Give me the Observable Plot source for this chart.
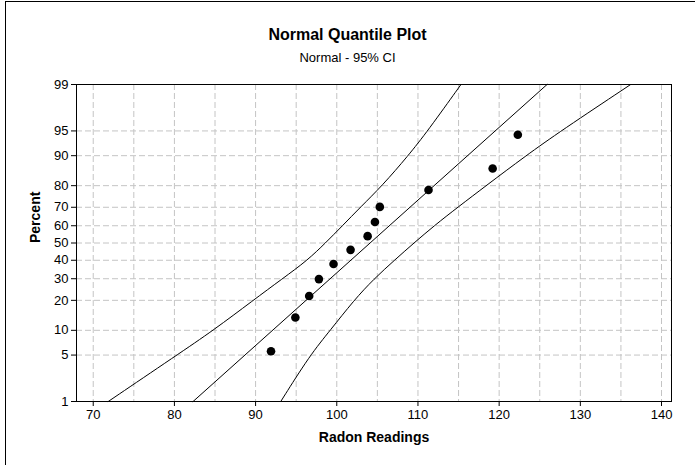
<!DOCTYPE html>
<html>
<head>
<meta charset="utf-8">
<script src="https://cdn.jsdelivr.net/npm/d3@7"></script>
<script src="https://cdn.jsdelivr.net/npm/@observablehq/plot@0.6"></script>
<style>
  html, body { margin: 0; padding: 0; background: #fff; }
  #wrap { position: relative; width: 695px; height: 465px; font-family: "Liberation Sans", Arial, sans-serif; color: #000; overflow: hidden; background: #fff; }
  #border { position: absolute; left: 5px; top: 1px; width: 700px; height: 480px; border-left: 1px solid #000; border-top: 1px solid #000; z-index: 2; pointer-events: none; }
  #head { position: relative; height: 70px; }
  #title { position: absolute; left: 0; width: 695px; top: 26px; text-align: center; font-weight: bold; font-size: 16px; }
  #subtitle { position: absolute; left: 0; width: 695px; top: 50px; text-align: center; font-size: 13px; }
  #chart { position: absolute; left: 0; top: 70px; z-index: 1; }
</style>
</head>
<body>
<div id="wrap">
  <div id="head">
    <div id="title">Normal Quantile Plot</div>
    <div id="subtitle">Normal - 95% CI</div>
  </div>
  <div id="chart"></div>
  <div id="border"></div>
</div>
<script>
const radon = [91.9, 94.9, 96.6, 97.8, 99.6, 101.7, 103.8, 104.7, 105.3, 111.3, 119.2, 122.3];
const percent = [5.6, 13.7, 21.8, 29.8, 37.9, 46.0, 54.0, 62.1, 70.2, 78.2, 86.3, 94.4];

// Fitted line
const fitPercent = [1, 50, 99];
const fitRadon = [82.3, 104.1, 125.9];

// 95% CI bands
const bandPercent = [1, 5, 10, 20, 30, 40, 50, 60, 70, 80, 90, 95, 99];
const lowerRadon = [71.85, 80.3, 84.8, 89.7, 93.3, 96.4, 98.6, 100.7, 102.9, 105.6, 108.8, 111.2, 115.3];
const upperRadon = [93.1, 96.7, 99.2, 102.1, 104.6, 107.1, 109.5, 112.0, 114.9, 118.4, 123.3, 127.6, 136.2];

// Axis ticks
const xTicks = [70, 80, 90, 100, 110, 120, 130, 140];
const xGrid = [70, 75, 80, 85, 90, 95, 100, 105, 110, 115, 120, 125, 130, 135, 140];
const yTicks = [1, 5, 10, 20, 30, 40, 50, 60, 70, 80, 90, 95, 99];

// Inverse standard normal CDF (Acklam) for the probability scale
function qnorm(p) {
  const a = [-3.969683028665376e+01, 2.209460984245205e+02, -2.759285104469687e+02, 1.383577518672690e+02, -3.066479806614716e+01, 2.506628277459239e+00];
  const b = [-5.447609879822406e+01, 1.615858368580409e+02, -1.556989798598866e+02, 6.680131188771972e+01, -1.328068155288572e+01];
  const c = [-7.784894002430293e-03, -3.223964580411365e-01, -2.400758277161838e+00, -2.549732539343734e+00, 4.374664141464968e+00, 2.938163982698783e+00];
  const d = [7.784695709041462e-03, 3.224671290700398e-01, 2.445134137142996e+00, 3.754408661907416e+00];
  const pl = 0.02425, ph = 1 - pl;
  let q, r;
  if (p < pl) {
    q = Math.sqrt(-2 * Math.log(p));
    return (((((c[0]*q+c[1])*q+c[2])*q+c[3])*q+c[4])*q+c[5]) / ((((d[0]*q+d[1])*q+d[2])*q+d[3])*q+1);
  }
  if (p <= ph) {
    q = p - 0.5; r = q * q;
    return (((((a[0]*r+a[1])*r+a[2])*r+a[3])*r+a[4])*r+a[5])*q / (((((b[0]*r+b[1])*r+b[2])*r+b[3])*r+b[4])*r+1);
  }
  q = Math.sqrt(-2 * Math.log(1 - p));
  return -(((((c[0]*q+c[1])*q+c[2])*q+c[3])*q+c[4])*q+c[5]) / ((((d[0]*q+d[1])*q+d[2])*q+d[3])*q+1);
}
const z = (pct) => qnorm(pct / 100);

const points = radon.map((x, i) => ({x, z: z(percent[i])}));
const fit = fitRadon.map((x, i) => ({x, z: z(fitPercent[i])}));
const lower = lowerRadon.map((x, i) => ({x, z: z(bandPercent[i])}));
const upper = upperRadon.map((x, i) => ({x, z: z(bandPercent[i])}));

const yTickZ = yTicks.map(z);
const yLabel = new Map(yTickZ.map((v, i) => [v, String(yTicks[i])]));
const yGridZ = yTicks.filter(p => p !== 1 && p !== 99).map(z);

const gridStyle = {stroke: "#c4c4c4", strokeOpacity: 1, strokeWidth: 1, strokeDasharray: "6,3"};

const chart = Plot.plot({
  width: 695,
  height: 395,
  marginLeft: 76,
  marginRight: 24,
  marginTop: 14,
  marginBottom: 64,
  style: {fontFamily: "'Liberation Sans', Arial, sans-serif", fontSize: "13px", color: "#000", background: "transparent", overflow: "visible"},
  x: {domain: [67.94, 141.23]},
  y: {domain: [z(1), z(99)]},
  marks: [
    Plot.gridX(xGrid, gridStyle),
    Plot.gridY(yGridZ, gridStyle),
    Plot.line(lower, {x: "x", y: "z", curve: "basis", stroke: "#000", strokeWidth: 1}),
    Plot.line(upper, {x: "x", y: "z", curve: "basis", stroke: "#000", strokeWidth: 1}),
    Plot.line(fit, {x: "x", y: "z", stroke: "#000", strokeWidth: 1}),
    Plot.dot(points, {x: "x", y: "z", r: 4.3, fill: "#000", stroke: null}),
    Plot.frame({stroke: "#000", strokeWidth: 1}),
    Plot.axisX(xTicks, {tickSize: 5, tickPadding: 3, label: null, fontSize: 13}),
    Plot.axisY(yTickZ, {tickSize: 5, tickPadding: 3, label: null, tickFormat: d => yLabel.get(d), fontSize: 13}),
    Plot.text(["Radon Readings"], {frameAnchor: "bottom", dy: 40, fontWeight: "bold", fontSize: 14}),
    Plot.text(["Percent"], {frameAnchor: "left", dx: -41, rotate: -90, fontWeight: "bold", fontSize: 14})
  ]
});
document.getElementById("chart").appendChild(chart);
</script>
</body>
</html>
